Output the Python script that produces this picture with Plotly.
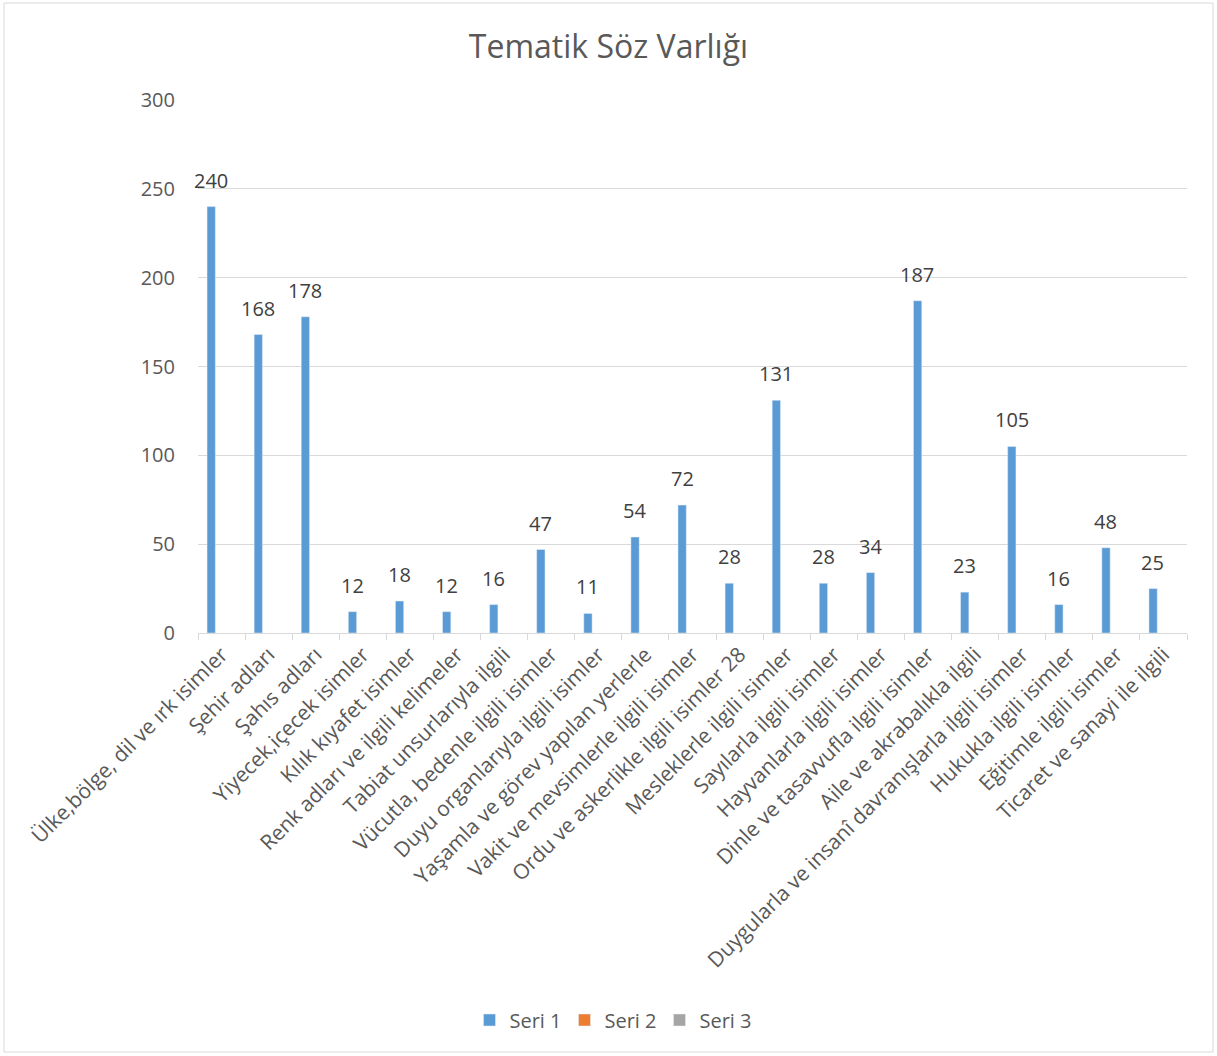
import plotly.graph_objects as go

categories = [
    "Ülke,bölge, dil ve ırk isimler",
    "Şehir adları",
    "Şahıs adları",
    "Yiyecek,içecek isimler",
    "Kılık kıyafet isimler",
    "Renk adları ve ilgili kelimeler",
    "Tabiat unsurlarıyla ilgili",
    "Vücutla, bedenle ilgili isimler",
    "Duyu organlarıyla ilgili isimler",
    "Yaşamla ve görev yapılan yerlerle",
    "Vakit ve mevsimlerle ilgili isimler",
    "Ordu ve askerlikle ilgili isimler 28",
    "Mesleklerle ilgili isimler",
    "Sayılarla ilgili isimler",
    "Hayvanlarla ilgili isimler",
    "Dinle ve tasavvufla ilgili isimler",
    "Aile ve akrabalıkla ilgili",
    "Duygularla ve insanî davranışlarla ilgili isimler",
    "Hukukla ilgili isimler",
    "Eğitimle ilgili isimler",
    "Ticaret ve sanayi ile ilgili",
]
seri1 = [240, 168, 178, 12, 18, 12, 16, 47, 11, 54, 72, 28, 131, 28, 34, 187, 23, 105, 16, 48, 25]
seri2 = [None] * len(categories)
seri3 = [None] * len(categories)
y_ticks = [0, 50, 100, 150, 200, 250, 300]

W, H = 1217, 1056
L, R, T, B = 198, 30, 100, 423
pw, ph = W - L - R, H - T - B

font = "Open Sans, Noto Sans, sans-serif"
fig = go.Figure()
fig.add_trace(go.Bar(x=categories, y=seri1, name="Seri 1", marker_color="#5b9bd5"))
fig.add_trace(go.Bar(x=categories, y=seri2, name="Seri 2", marker_color="#ed7d31"))
fig.add_trace(go.Bar(x=categories, y=seri3, name="Seri 3", marker_color="#a5a5a5"))

fig.update_layout(
    width=W, height=H,
    margin=dict(l=L, r=R, t=T, b=B),
    paper_bgcolor="white", plot_bgcolor="white",
    barmode="group", bargap=0.34, bargroupgap=0.2,
    font=dict(family=font, color="#595959"),
    title=dict(text="Tematik Söz Varlığı", x=0.5, xref="container", xanchor="center",
               y=1 - 47 / H, yref="container", yanchor="middle",
               font=dict(size=32, color="#595959", family=font)),
    legend=dict(orientation="h", x=(612 - L) / pw, xanchor="center",
                y=(H - B - 1020) / ph, yanchor="middle",
                entrywidth=50, entrywidthmode="pixels",
                font=dict(size=20, color="#595959"), traceorder="normal"),
    showlegend=True,
)

# data labels placed over the Seri 1 bars (bars are offset left in the group)
for c, v in zip(categories, seri1):
    fig.add_annotation(x=c, y=v, text=str(v), showarrow=False, yanchor="bottom",
                       xshift=-10.5, yshift=11,
                       font=dict(size=20, color="#404040", family=font))

fig.update_xaxes(tickangle=-45, tickfont=dict(size=21, color="#595959"),
                 range=[-0.5, len(categories) - 0.5], autorange=False,
                 showline=True, linecolor="#d9d9d9", linewidth=1,
                 ticks="outside", tickson="boundaries", ticklen=6, tickcolor="#d9d9d9",
                 showgrid=False)
fig.update_yaxes(range=[0, 300], tickvals=y_ticks, showgrid=True, gridcolor="#d9d9d9",
                 gridwidth=1, zeroline=False, showline=False, ticks="",
                 tickfont=dict(size=20, color="#595959"), ticklabelstandoff=22)

fig.add_shape(type="rect", xref="paper", yref="paper",
              x0=(4 - L) / pw, x1=(1213 - L) / pw,
              y0=(H - B - 1052) / ph, y1=(H - B - 3) / ph,
              line=dict(color="#d9d9d9", width=1), fillcolor="rgba(0,0,0,0)", layer="below")

fig.write_html("out.html", config={"displayModeBar": False},
               post_script="document.body.style.margin='0px';")
